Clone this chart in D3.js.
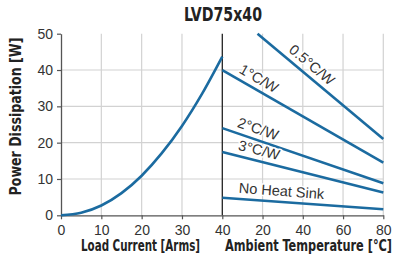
<!DOCTYPE html>
<html><head><meta charset="utf-8">
<script src="https://cdn.jsdelivr.net/npm/d3@7"></script>
<style>
html,body{margin:0;padding:0;background:#fff;}
svg{display:block;}
.cond{font-family:"DejaVu Sans","Liberation Sans",sans-serif;font-stretch:condensed;font-weight:bold;}
.reg{font-family:"Liberation Sans",Arial,Helvetica,sans-serif;}
</style></head>
<body>
<svg id="chart" width="395" height="256"></svg>
<script>
// ---- data ----
const title = "LVD75x40";
const yTicks = [0, 10, 20, 30, 40, 50];
const currentTicks = [0, 10, 20, 30, 40];
const tempTicks = [20, 40, 60, 80];
const loadCurrent = [0, 5, 10, 15, 20, 25, 30, 35, 40];
const loadPower = [0, 0.7, 2.7, 6.1, 10.9, 17.1, 24.6, 33.5, 43.7];
const deratingNames = ["0.5°C/W", "1°C/W", "2°C/W", "3°C/W", "No Heat Sink"];
const deratingTemp = [[17.5, 80], [0, 80], [0, 80], [0, 80], [0, 80]];
const deratingPower = [[50, 21.0], [40, 14.5], [24, 8.8], [17.4, 6.3], [4.85, 1.65]];
const labelTemp = [41, 15.5, 16, 17, 29];

// ---- layout ----
const svg = d3.select("#chart");
const x0 = 61, xMid = 222.3, x1 = 383.3, yTop = 33.7, yBot = 215.3;
const xC = d3.scaleLinear().domain([0, 40]).range([x0, xMid]);
const xT = d3.scaleLinear().domain([0, 80]).range([xMid, x1]);
const y = d3.scaleLinear().domain([0, 50]).range([yBot, yTop]);
const blue = "#1b6ba0", grid = "#d2d2d2", axisCol = "#555", textCol = "#333";

// grid
const g = svg.append("g");
g.selectAll(".hg").data(yTicks.filter(d => d > 0 && d < 50)).join("line")
  .attr("x1", x0).attr("x2", x1).attr("y1", d => y(d)).attr("y2", d => y(d))
  .attr("stroke", grid).attr("stroke-width", 1.2);
g.selectAll(".vc").data(currentTicks.filter(d => d > 0 && d < 40)).join("line")
  .attr("x1", d => xC(d)).attr("x2", d => xC(d)).attr("y1", yTop).attr("y2", yBot)
  .attr("stroke", grid).attr("stroke-width", 1.2);
g.selectAll(".vt").data(tempTicks).join("line")
  .attr("x1", d => xT(d)).attr("x2", d => xT(d)).attr("y1", yTop).attr("y2", yBot)
  .attr("stroke", grid).attr("stroke-width", 1.2);

// axes
const yAxis = d3.axisLeft(y).tickValues(yTicks).tickSize(4).tickPadding(4).tickSizeOuter(0);
const ya = svg.append("g").attr("transform", `translate(${x0},0)`).call(yAxis);
const xAxC = d3.axisBottom(xC).tickValues(currentTicks).tickSize(4).tickPadding(6).tickSizeOuter(0);
const xa1 = svg.append("g").attr("transform", `translate(0,${yBot})`).call(xAxC);
const xAxT = d3.axisBottom(xT).tickValues(tempTicks).tickSize(4).tickPadding(6).tickSizeOuter(0);
const xa2 = svg.append("g").attr("transform", `translate(0,${yBot})`).call(xAxT);
[ya, xa1, xa2].forEach(a => {
  a.select(".domain").attr("stroke", axisCol).attr("stroke-width", 1.3);
  a.selectAll(".tick line").attr("stroke", axisCol).attr("stroke-width", 1.2);
  a.selectAll(".tick text").attr("class", "reg").attr("font-size", 14).attr("fill", textCol);
});

// divider
svg.append("line").attr("x1", xMid).attr("x2", xMid).attr("y1", yTop).attr("y2", yBot)
  .attr("stroke", "#222").attr("stroke-width", 1.3);

// load curve
const curvePts = loadCurrent.map((c, i) => [xC(c), y(loadPower[i])]);
svg.append("path").attr("d", d3.line().curve(d3.curveMonotoneX)(curvePts))
  .attr("fill", "none").attr("stroke", blue).attr("stroke-width", 2.6);

// derating lines
deratingNames.forEach((name, i) => {
  const pts = deratingTemp[i].map((t, j) => [xT(t), y(deratingPower[i][j])]);
  svg.append("path").attr("d", d3.line()(pts))
    .attr("fill", "none").attr("stroke", blue).attr("stroke-width", 2.6);
  const [p0, p1] = pts;
  const ang = Math.atan2(p1[1] - p0[1], p1[0] - p0[0]) * 180 / Math.PI;
  const t = labelTemp[i];
  const f = (t - deratingTemp[i][0]) / (deratingTemp[i][1] - deratingTemp[i][0]);
  const lx = xT(t);
  const ly = y(deratingPower[i][0] + f * (deratingPower[i][1] - deratingPower[i][0]));
  svg.append("text").attr("class", "reg")
    .attr("transform", `translate(${lx},${ly}) rotate(${ang})`)
    .attr("dy", -6).attr("text-anchor", "middle").attr("font-size", 14.5)
    .attr("fill", textCol).attr("stroke", "#fff").attr("stroke-width", 3)
    .attr("paint-order", "stroke").attr("stroke-linejoin", "round")
    .text(name);
});

// titles
function condText(txt, size, len) {
  return svg.append("text").attr("class", "cond").attr("text-anchor", "middle")
    .attr("font-size", size).attr("fill", "#222")
    .attr("textLength", len).attr("lengthAdjust", "spacingAndGlyphs").text(txt);
}
condText(title, 19, 78).attr("x", 223).attr("y", 21);
condText("Power Dissipation [W]", 15.5, 158).attr("transform", `translate(21,116.5) rotate(-90)`);
condText("Load Current [Arms]", 15.5, 119).attr("x", 140.5).attr("y", 251);
condText("Ambient Temperature [°C]", 15.5, 167).attr("x", 308.5).attr("y", 251);
</script>
</body></html>
